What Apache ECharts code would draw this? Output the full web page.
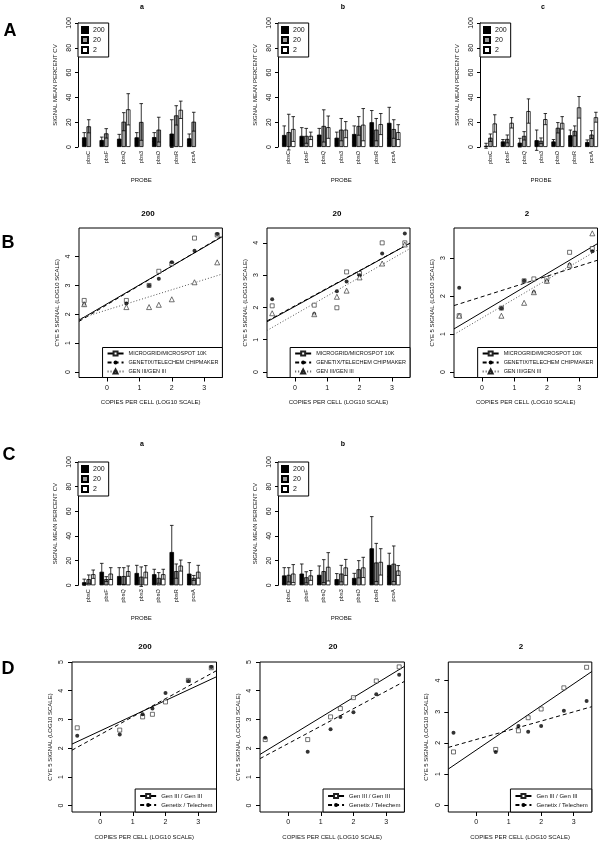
<!DOCTYPE html>
<html><head><meta charset="utf-8">
<script src="https://cdn.jsdelivr.net/npm/echarts@6/dist/echarts.min.js"></script>
<style>html,body{margin:0;padding:0;background:#fff}#c{width:600px;height:841px}</style>
</head><body><div id="c"></div><script>
// ---------- categories / labels ----------
const probes = ["pbsC","pbsF","pbsQ","pbs3","pbsO","pbsR","pcsA"];
const concNames = ["200","20","2"];
const copiesLog = [-0.7, 0.6, 1.3, 1.6, 2.0, 2.7, 3.4];

// ---------- Row A (bar panels a, b, c): mean and sd ----------
const Aa_mean200 = [7.8, 5.6, 6.7, 7.8, 8.0, 10.8, 7.0];
const Aa_sd200   = [3.8, 2.4, 3.5, 3.8, 3.6, 11.2, 3.5];
const Aa_mean20  = [16.7, 11, 20.4, 20.2, 14, 25.5, 20.4];
const Aa_sd20    = [5.3, 3.8, 7.3, 14.8, 10, 7.8, 7.6];
const Aa_mean2   = [null, null, 30.4, null, null, 30, null];
const Aa_sd2     = [null, null, 12.6, null, null, 7, null];

const Ab_mean200 = [9.7, 9, 10, 7.5, 10.5, 20, 19.5];
const Ab_sd200   = [7.3, 6.6, 5, 4.5, 6.5, 9.4, 12.5];
const Ab_mean20  = [12, 9, 17, 14, 17, 14, 14.5];
const Ab_sd20    = [14.4, 6, 13, 9, 7.5, 9, 7.5];
const Ab_mean2   = [14.5, 9, 16, 14, 18, 18.5, 12];
const Ab_sd2     = [10, 3, 9, 6.5, 13, 8.5, 6];

const Ac_mean200 = [1, 4.5, 3.5, 5.5, 4.5, 9.5, 4];
const Ac_sd200   = [2, 1.5, 3.5, 8.2, 1.5, 4.2, 1.7];
const Ac_mean20  = [7.5, 6.5, 9, 5, 15.5, 13, 10];
const Ac_sd20    = [3, 3.2, 3.4, 2.3, 4.2, 4, 3.2];
const Ac_mean2   = [19, 19.5, 29, 22.5, 19.5, 32, 24];
const Ac_sd2     = [7, 4.2, 9.8, 4.5, 5, 8.7, 4];

// ---------- Row C (bar panels a, b) ----------
const Ca_mean200 = [2.5, 11, 7.5, 10, 9, 27, 9.5];
const Ca_sd200   = [2.5, 6.8, 6.8, 6.2, 4, 21.6, 8.9];
const Ca_mean20  = [5, 5, 7.5, 7, 6, 11.5, 6];
const Ca_sd20    = [3.4, 2, 6.8, 7.9, 4.3, 5.8, 2];
const Ca_mean2   = [9, 9.5, 11.5, 11, 9, 16, 11];
const Ca_sd2     = [3.4, 4.8, 4.2, 5, 4, 4.5, 5.2];

const Cb_mean200 = [8, 9.5, 8.5, 5, 6, 30, 16.5];
const Cb_sd200   = [6.3, 7.8, 7.2, 4.5, 3.7, 25.7, 9.5];
const Cb_mean20  = [8.5, 6.5, 11.5, 9.5, 13, 18.5, 17.5];
const Cb_sd20    = [5.8, 4.5, 9.3, 6.7, 7, 15.5, 14.4];
const Cb_mean2   = [9.5, 8, 15, 14.5, 14.5, 19, 12];
const Cb_sd2     = [7.3, 4, 11.5, 6.5, 8.2, 10.7, 4];

// ---------- Row B (scatter, log10 Cy5 signal) ----------
const B200_micro   = [2.48, 2.48, 3.0, 3.49, 3.75, 4.64, 4.75];
const B200_genetix = [2.33, 2.37, 3.0, 3.23, 3.8, 4.2, 4.78];
const B200_gen3    = [2.35, 2.25, 2.25, 2.33, 2.52, 3.11, 3.8];
const B20_micro    = [2.05, 2.07, 1.99, 3.1, 3.05, 4.0, 4.0];
const B20_genetix  = [2.25, 1.8, 2.5, 2.8, 3.0, 3.67, 4.29];
const B20_gen3     = [1.82, 1.79, 2.33, 2.52, 2.93, 3.36, 3.95];
const B2_micro     = [1.48, 1.68, 2.4, 2.45, 2.46, 3.15, 3.25];
const B2_genetix   = [2.22, 1.68, 2.4, 2.1, 2.38, 2.82, 3.18];
const B2_gen3      = [1.48, 1.48, 1.82, 2.1, 2.4, 2.82, 3.65];
// regression fits [intercept, slope]
const B200_fit_micro = [2.36, 0.655], B200_fit_genetix = [2.33, 0.67], B200_fit_gen3 = [2.15, 0.35];
const B20_fit_micro  = [2.03, 0.55],  B20_fit_genetix  = [2.05, 0.545], B20_fit_gen3 = [1.78, 0.574];
const B2_fit_micro   = [1.57, 0.508], B2_fit_genetix   = [1.98, 0.27],  B2_fit_gen3  = [1.42, 0.503];

// ---------- Row D ----------
const D200_gen3    = [2.71, 2.63, 3.09, 3.18, 3.61, 4.36, 4.8];
const D200_genetix = [2.43, 2.48, 3.18, 3.38, 3.92, 4.34, 4.83];
const D20_gen3     = [2.3, 2.3, 3.09, 3.38, 3.76, 4.34, 4.83];
const D20_genetix  = [2.36, 1.88, 2.66, 3.09, 3.25, 3.88, 4.56];
const D2_gen3      = [1.71, 1.79, 2.39, 2.81, 3.09, 3.77, 4.43];
const D2_genetix   = [2.33, 1.71, 2.54, 2.36, 2.54, 3.03, 3.35];
const D200_fit_gen3 = [2.60, 0.53],  D200_fit_genetix = [2.47, 0.626];
const D20_fit_gen3  = [2.38, 0.693], D20_fit_genetix  = [2.16, 0.608];
const D2_fit_gen3   = [1.77, 0.709], D2_fit_genetix   = [2.11, 0.296];

const xTicksSc = [0, 1, 2, 3];

// ---------- building ----------
const FONT = "'Liberation Sans', Arial, sans-serif";
const TXT = '#111';
const grids = [], xAxes = [], yAxes = [], series = [], legends = [], graphics = [];
const barColors = ['#000000', '#9a9a9a', '#ffffff'];
const GAP = 0.23;

function barPanel(box, means, sds) {
  const gi = grids.length;
  grids.push({left: box.left, top: box.top, width: box.width, height: box.height});
  xAxes.push({gridIndex: gi, type: 'category', data: probes,
    axisLine: {show: false}, axisTick: {show: false},
    axisLabel: {rotate: 90, fontSize: 5.5, margin: 4, color: TXT, fontFamily: FONT},
    name: 'PROBE', nameLocation: 'middle', nameGap: 30,
    nameTextStyle: {fontSize: 6, color: TXT, fontFamily: FONT}});
  yAxes.push({gridIndex: gi, type: 'value', min: 0, max: 100, interval: 20, offset: 2,
    axisLine: {show: true, lineStyle: {color: '#000', width: 1}},
    axisTick: {show: true, length: 3, lineStyle: {color: '#000'}},
    splitLine: {show: false},
    axisLabel: {rotate: 90, fontSize: 7, margin: 5, color: TXT, fontFamily: FONT},
    name: 'SIGNAL MEAN PERCENT CV', nameLocation: 'middle', nameGap: 20,
    nameTextStyle: {fontSize: 6, color: TXT, fontFamily: FONT}});
  for (let j = 0; j < 3; j++) {
    series.push({type: 'bar', name: concNames[j], xAxisIndex: gi, yAxisIndex: gi,
      data: means[j], barGap: '0%', barCategoryGap: (GAP * 100) + '%', silent: true,
      itemStyle: {color: barColors[j], borderColor: '#000', borderWidth: 0.8}});
  }
  for (let j = 0; j < 3; j++) {
    const d = [];
    means[j].forEach((m, i) => { if (m != null) d.push([i, m, sds[j][i]]); });
    series.push({type: 'custom', xAxisIndex: gi, yAxisIndex: gi, clip: false, z: 5, silent: true,
      data: d,
      renderItem: (params, api) => {
        const i = api.value(0), m = api.value(1), s = api.value(2);
        const band = api.size([1, 0])[0];
        const bw = band * (1 - GAP) / 3;
        const c = api.coord([i, m]);
        const x = c[0] + (j - 1) * bw;
        const yt = api.coord([i, m + s])[1], yb = api.coord([i, m - s])[1];
        const cap = bw * 0.4;
        const st = {stroke: '#000', lineWidth: 0.8};
        return {type: 'group', children: [
          {type: 'line', shape: {x1: x, y1: yb, x2: x, y2: yt}, style: st},
          {type: 'line', shape: {x1: x - cap, y1: yt, x2: x + cap, y2: yt}, style: st},
          {type: 'line', shape: {x1: x - cap, y1: yb, x2: x + cap, y2: yb}, style: st}
        ]};
      }});
  }
  legends.push({left: box.left - 2, top: box.top, orient: 'vertical', data: concNames,
    icon: 'rect', selectedMode: false, itemWidth: 6, itemHeight: 6, itemGap: 2, padding: [3, 4, 3, 3],
    borderColor: '#000', borderWidth: 1, backgroundColor: '#fff',
    textStyle: {fontSize: 7, color: TXT, fontFamily: FONT}});
}

function scatterPanel(box, xr, yr, yticks, sets, legendNames, legendRight, legendFont) {
  const gi = grids.length;
  grids.push({left: box.left, top: box.top, width: box.width, height: box.height,
    show: true, borderColor: '#000', borderWidth: 1, backgroundColor: 'transparent'});
  xAxes.push({gridIndex: gi, type: 'value', min: xr[0], max: xr[1],
    axisLine: {show: false, onZero: false}, splitLine: {show: false},
    axisTick: {show: true, length: 4, customValues: xTicksSc, lineStyle: {color: '#000'}},
    axisLabel: {fontSize: 7, margin: 7, color: TXT, customValues: xTicksSc, fontFamily: FONT},
    name: 'COPIES PER CELL (LOG10 SCALE)', nameLocation: 'middle', nameGap: 22,
    nameTextStyle: {fontSize: 6, color: TXT, fontFamily: FONT}});
  yAxes.push({gridIndex: gi, type: 'value', min: yr[0], max: yr[1],
    axisLine: {show: false, onZero: false}, splitLine: {show: false},
    axisTick: {show: true, length: 4, customValues: yticks, lineStyle: {color: '#000'}},
    axisLabel: {rotate: 90, fontSize: 7, margin: 7, color: TXT, customValues: yticks, fontFamily: FONT},
    name: 'CYE 5 SIGNAL (LOG10 SCALE)', nameLocation: 'middle', nameGap: 19,
    nameTextStyle: {fontSize: 6, color: TXT, fontFamily: FONT}});
  sets.forEach(s => {
    const symStyle = s.hollow
      ? {color: '#fff', borderColor: '#222', borderWidth: 0.8}
      : {color: '#000', borderWidth: 0};
    series.push({type: 'scatter', name: s.name + ' (points)', xAxisIndex: gi, yAxisIndex: gi,
      data: copiesLog.map((x, i) => [x, s.ys[i]]), symbol: s.symbol, symbolSize: s.size,
      itemStyle: symStyle, silent: true, z: 4});
    const x0 = xr[0], x1 = xr[1];
    series.push({type: 'line', name: s.name, xAxisIndex: gi, yAxisIndex: gi,
      data: [[x0, s.fit[0] + s.fit[1] * x0], [x1, s.fit[0] + s.fit[1] * x1]],
      symbol: s.symbol, showSymbol: false, symbolSize: s.size, clip: true, silent: true,
      lineStyle: {color: s.color, width: 1, type: s.type}, itemStyle: symStyle, z: 3});
  });
  legends.push({right: legendRight, bottom: 841 - (box.top + box.height), orient: 'vertical',
    data: legendNames, selectedMode: false, itemWidth: 16, itemHeight: 5, itemGap: 3,
    padding: legendNames.length === 3 ? [3, 4] : [4, 4],
    borderColor: '#000', borderWidth: 1, backgroundColor: '#fff',
    textStyle: {fontSize: legendFont, color: TXT, fontFamily: FONT}});
}

// Row A
barPanel({left: 80, top: 23, width: 122.5, height: 124}, [Aa_mean200, Aa_mean20, Aa_mean2], [Aa_sd200, Aa_sd20, Aa_sd2]);
barPanel({left: 280, top: 23, width: 122.5, height: 124}, [Ab_mean200, Ab_mean20, Ab_mean2], [Ab_sd200, Ab_sd20, Ab_sd2]);
barPanel({left: 482, top: 23, width: 122.5, height: 124}, [Ac_mean200, Ac_mean20, Ac_mean2], [Ac_sd200, Ac_sd20, Ac_sd2]);

// Row B
const bNames = ['MICROGRID/MICROSPOT 10K', 'GENETIX/TELECHEM CHIPMAKER', 'GEN III/GEN III'];
function bSets(micro, gen, g3, fm, fg, f3) {
  return [
    {name: bNames[0], ys: micro, symbol: 'rect', size: 4, fit: fm, color: '#000', type: 'solid', hollow: true},
    {name: bNames[1], ys: gen, symbol: 'circle', size: 4, fit: fg, color: '#000', type: [4, 3], hollow: false},
    {name: bNames[2], ys: g3, symbol: 'triangle', size: 5, fit: f3, color: '#555', type: [1, 2], hollow: true}
  ];
}
scatterPanel({left: 79, top: 228, width: 143.4, height: 149.5}, [-0.86, 3.56], [-0.19, 4.99], [0, 1, 2, 3, 4],
  bSets(B200_micro, B200_genetix, B200_gen3, B200_fit_micro, B200_fit_genetix, B200_fit_gen3), bNames, 600 - 222.4, 5.5);
scatterPanel({left: 267, top: 228, width: 143, height: 149.5}, [-0.86, 3.56], [-0.17, 4.46], [0, 1, 2, 3, 4],
  bSets(B20_micro, B20_genetix, B20_gen3, B20_fit_micro, B20_fit_genetix, B20_fit_gen3), bNames, 600 - 410, 5.5);
scatterPanel({left: 454, top: 228, width: 143.5, height: 149.5}, [-0.86, 3.56], [-0.146, 3.79], [0, 1, 2, 3],
  bSets(B2_micro, B2_genetix, B2_gen3, B2_fit_micro, B2_fit_genetix, B2_fit_gen3), bNames, 600 - 597.5, 5.5);

// Row C
barPanel({left: 80, top: 462, width: 122.5, height: 123.3}, [Ca_mean200, Ca_mean20, Ca_mean2], [Ca_sd200, Ca_sd20, Ca_sd2]);
barPanel({left: 280, top: 462, width: 122.5, height: 123.3}, [Cb_mean200, Cb_mean20, Cb_mean2], [Cb_sd200, Cb_sd20, Cb_sd2]);

// Row D
const dNames = ['Gen III / Gen III', 'Genetix / Telechem'];
function dSets(g3, gen, f3, fg) {
  return [
    {name: dNames[0], ys: g3, symbol: 'rect', size: 4, fit: f3, color: '#000', type: 'solid', hollow: true},
    {name: dNames[1], ys: gen, symbol: 'circle', size: 4, fit: fg, color: '#000', type: [4, 3], hollow: false}
  ];
}
scatterPanel({left: 72, top: 662, width: 144.5, height: 150}, [-0.86, 3.56], [-0.22, 5], [0, 1, 2, 3, 4, 5],
  dSets(D200_gen3, D200_genetix, D200_fit_gen3, D200_fit_genetix), dNames, 600 - 216.5, 6);
scatterPanel({left: 260, top: 662, width: 144.4, height: 150}, [-0.86, 3.56], [-0.22, 5], [0, 1, 2, 3, 4, 5],
  dSets(D20_gen3, D20_genetix, D20_fit_gen3, D20_fit_genetix), dNames, 600 - 404.4, 6);
scatterPanel({left: 448.3, top: 662, width: 143.5, height: 150}, [-0.86, 3.56], [-0.22, 4.6], [0, 1, 2, 3, 4],
  dSets(D2_gen3, D2_genetix, D2_fit_gen3, D2_fit_genetix), dNames, 600 - 591.8, 6);

// titles & panel letters
function txt(t, x, y, size, bold) {
  graphics.push({type: 'text', x: x, y: y, silent: true,
    style: {text: t, fill: '#000', font: (bold ? 'bold ' : '') + size + 'px ' + FONT, align: 'center', verticalAlign: 'middle'}});
}
txt('A', 10, 31, 18, true); txt('B', 8, 243, 18, true); txt('C', 9, 455, 18, true); txt('D', 8, 669, 18, true);
txt('a', 142, 7, 7, true); txt('b', 343, 7, 7, true); txt('c', 543, 7, 7, true);
txt('200', 148, 214, 8, true); txt('20', 337, 214, 8, true); txt('2', 527, 214, 8, true);
txt('a', 142, 444, 7, true); txt('b', 343, 444, 7, true);
txt('200', 145, 647, 8, true); txt('20', 333, 647, 8, true); txt('2', 521, 647, 8, true);

const chart = echarts.init(document.getElementById('c'), null, {renderer: 'canvas'});
chart.setOption({
  animation: false,
  backgroundColor: '#fff',
  textStyle: {fontFamily: FONT},
  grid: grids, xAxis: xAxes, yAxis: yAxes, series: series, legend: legends, graphic: graphics
});
</script></body></html>
